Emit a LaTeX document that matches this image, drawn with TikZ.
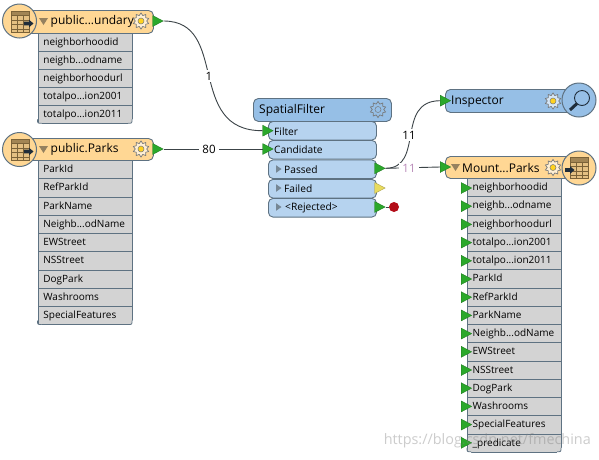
\documentclass[tikz,border=0pt]{standalone}
\usepackage{fontspec}
\setmainfont{Open Sans}
\usetikzlibrary{shapes.geometric}
\definecolor{edgeC}{HTML}{5E7282}
\definecolor{hdrO}{HTML}{FFD794}
\definecolor{rowC}{HTML}{D3D3D3}
\definecolor{hdrB}{HTML}{96BFE6}
\definecolor{portB}{HTML}{B6D3EF}
\definecolor{greenP}{HTML}{2BA82B}
\definecolor{yelP}{HTML}{E9DB5E}
\definecolor{redP}{HTML}{B30C18}
\definecolor{iconL}{HTML}{7A6238}
\definecolor{wireC}{HTML}{3C4448}
\definecolor{darkI}{HTML}{1F2D3A}
\definecolor{gearY}{HTML}{FFD21F}
\definecolor{gearO}{HTML}{77797A}
\newcommand{\ddd}{.{}.{}.}
\tikzset{
 x=1pt,y=-1pt,
 hdr/.style={draw=edgeC,line width=0.9pt,rounded corners=5pt,anchor=north west,inner sep=0pt,minimum height=#1},
 attr/.style={draw=edgeC,line width=0.8pt,fill=rowC,anchor=north west,minimum width=94.5pt,minimum height=18.25pt,inner xsep=5.5pt,inner ysep=0pt,text width=83.5pt,align=left,text height=8pt,text depth=2pt,font=\fontsize{10}{12}\selectfont},
 portrow/.style={draw=edgeC,line width=0.9pt,fill=portB,rounded corners=4.5pt,anchor=north west,minimum width=108pt,minimum height=18.6pt,inner sep=0pt},
 porttext/.style={anchor=west,inner sep=0pt,font=\fontsize{10.2}{12}\selectfont},
 tri/.style={isosceles triangle,isosceles triangle stretches,minimum width=11pt,minimum height=10.5pt,inner sep=0pt,fill=#1,draw=#1!70!black,line width=0.3pt,anchor=center},
 wire/.style={draw=wireC,line width=0.9pt},
 lab/.style={font=\fontsize{11.5}{13}\selectfont,fill=white,inner xsep=3pt,inner ysep=1.5pt},
 title/.style={font=\fontsize{12}{14}\selectfont,anchor=west,inner sep=0pt},
 round/.style={circle,draw=edgeC,line width=1pt,minimum size=34pt,inner sep=0pt},
 pics/gear/.style 2 args={code={
   \node[star,star points=10,star point ratio=1.4,minimum size=16pt,inner sep=0pt,draw=gearO,fill=#2,line width=0.7pt]{};
   \filldraw[draw=gearO,fill=#1,line width=0.5pt] (0,0) circle (3pt);
 }},
 pics/tbl/.style={code={
   \fill[hdrO!80!iconL] (0,0) rectangle (18,21);
   \fill[iconL!70!hdrO] (0,0) rectangle (18,4.5);
   \draw[iconL,line width=0.7pt] (0,0) rectangle (18,21);
   \foreach \yy in {4.5,9,13.5,18}{\draw[iconL,line width=0.6pt] (0,\yy) -- (18,\yy);}
   \foreach \xx in {6,12}{\draw[iconL,line width=0.6pt] (\xx,4.5) -- (\xx,21);}
 }},
}
\newcommand{\hdrarrow}[2]{\fill[darkI] (#1,#2-1.8) -- (#1+5,#2-1.8) -- (#1+5,#2-3.8) -- (#1+9.5,#2) -- (#1+5,#2+3.8) -- (#1+5,#2+1.8) -- (#1,#2+1.8) -- cycle;}
\newcommand{\dropdown}[2]{\fill[black!40!hdrO!85!gray] (#1,#2-3) -- (#1+9,#2-3) -- (#1+4.5,#2+4) -- cycle;}
\newcommand{\expander}[2]{\fill[edgeC!85!white] (#1,#2-3.8) -- (#1+5.5,#2) -- (#1,#2+3.8) -- cycle;}
% rounded bottom corners of an attribute block: left x, right x, bottom y
\newcommand{\bcorners}[3]{%
  \fill[white] (#1-1,#3+1) -- (#1-1,#3-4) -- (#1,#3-4) .. controls (#1,#3) .. (#1+4,#3) -- (#1+4,#3+1) -- cycle;
  \fill[white] (#2+1,#3+1) -- (#2+1,#3-4) -- (#2,#3-4) .. controls (#2,#3) .. (#2-4,#3) -- (#2-4,#3+1) -- cycle;
  \draw[edgeC,line width=0.8pt] (#1,#3-4) .. controls (#1,#3) .. (#1+4,#3);
  \draw[edgeC,line width=0.8pt] (#2,#3-4) .. controls (#2,#3) .. (#2-4,#3);}
\begin{document}
\begin{tikzpicture}
\useasboundingbox (0,0) rectangle (599,459);
\fill[white] (0,0) rectangle (599,459);

% ---------- reader 1
\node[hdr=23pt,fill=hdrO,minimum width=128pt] (r1) at (25,10) {};
\foreach \t [count=\i from 0] in {neighborhoodid,neighb\ddd odname,neighborhoodurl,totalpo\ddd ion2001,totalpo\ddd ion2011}
  {\node[attr] (r1a\i) at (37.5,33+18*\i) {\t};}
\bcorners{37.5}{132}{123.25}
\node[title] (r1t) at (50.5,21.5) {public\ddd undary};
\dropdown{39}{21}
\pic at (141,21) {gear={gearY}{hdrO!40!white}};
\node[tri=greenP] (r1o) at (156,21) {};
\node[round,fill=hdrO] (r1c) at (19.5,21) {};
\pic at (11,11) {tbl};
\hdrarrow{24}{23.5}

% ---------- reader 2
\node[hdr=22pt,fill=hdrO,minimum width=128pt] (r2) at (25,138) {};
\foreach \t [count=\i from 0] in {ParkId,RefParkId,ParkName,Neighb\ddd odName,EWStreet,NSStreet,DogPark,Washrooms,SpecialFeatures}
  {\node[attr] (r2a\i) at (37.5,160+18.25*\i) {\t};}
\bcorners{37.5}{132}{324.5}
\node[title] (r2t) at (50.5,149.5) {public.Parks};
\dropdown{39}{149}
\pic at (141,149) {gear={gearY}{hdrO!40!white}};
\node[tri=greenP] (r2o) at (156,149) {};
\node[round,fill=hdrO] (r2c) at (19.5,149.5) {};
\pic at (11,139) {tbl};
\hdrarrow{24}{151.5}

% ---------- SpatialFilter
\node[hdr=23pt,fill=hdrB,minimum width=138pt] (sf) at (253,98) {};
\node[title] (sft) at (259,110.5) {SpatialFilter};
\pic at (378,109.5) {gear={hdrB}{hdrB}};
\node[portrow] (pf) at (268,121) {};
\node[portrow] (pc) at (268,140) {};
\node[portrow] (pp) at (268,159.5) {};
\node[portrow] (pa) at (268,179) {};
\node[portrow] (pr) at (268,198) {};
\node[porttext] (pft) at (274,131.5) {Filter};
\node[porttext] (pct) at (274,150) {Candidate};
\node[porttext] (ppt) at (284,169.5) {Passed};
\node[porttext] (pat) at (284,188.5) {Failed};
\node[porttext] (prt) at (285,207.5) {<Rejected>};
\expander{276}{169}
\expander{276}{188}
\expander{276}{207}

% ---------- Inspector
\node[hdr=23pt,fill=hdrB,minimum width=127pt] (ins) at (445,89) {};
\node[title] (inst) at (451,101.5) {Inspector};
\pic at (553,101) {gear={gearY}{hdrB!40!white}};
\node[round,fill=hdrB] (insc) at (579,100) {};
\draw[darkI,line width=0.9pt] (582,98) circle (7.5pt);
\draw[darkI,line width=3pt] (577,103.5) -- (570,110);

% ---------- Writer
\node[hdr=22pt,fill=hdrO,minimum width=127pt] (w) at (445,156) {};
\foreach \t [count=\i from 0] in {neighborhoodid,neighb\ddd odname,neighborhoodurl,totalpo\ddd ion2001,totalpo\ddd ion2011,ParkId,RefParkId,ParkName,Neighb\ddd odName,EWStreet,NSStreet,DogPark,Washrooms,SpecialFeatures,\_predicate}
  {\node[attr,minimum width=94pt,inner xsep=5pt] (wa\i) at (467,178+18.25*\i) {\t};
   \node[tri=greenP] (wp\i) at (464.5,188+18.2*\i) {};}
\bcorners{467}{561}{451.75}
\node[title] (wt) at (462,168) {Mount\ddd Parks};
\dropdown{451}{167}
\pic at (553,167.5) {gear={gearY}{hdrO!40!white}};
\node[round,fill=hdrO] (wc) at (579,168) {};
\pic at (570,157.5) {tbl};
\hdrarrow{565}{170}

% ---------- ports
\node[tri=greenP] (fi) at (266,130.7) {};
\node[tri=greenP] (ci) at (266,149) {};
\node[tri=greenP] (po) at (378,168.3) {};
\node[tri=yelP] (fo) at (378,188) {};
\node[tri=greenP] (ro) at (378,207) {};
\node[circle,fill=redP,minimum size=10pt,inner sep=0pt] (rd) at (394,207) {};
\node[tri=greenP] (ii) at (443.5,100.7) {};
\node[tri=greenP] (wi) at (443.5,167) {};

% ---------- connectors
\draw[wire] (ro.apex) -- (rd);
\draw[wire] (r1o.apex) .. controls (230,21) and (185,131) .. (fi.west);
\draw[wire] (r2o.apex) -- (ci.west);
\draw[wire] (po.apex) .. controls (425,168) and (395,101) .. (ii.west);
\draw[wire] (po.apex) -- (wi.west);
\node[lab] (l1) at (209,76) {1};
\node[lab] (l2) at (209,149) {80};
\node[lab] (l3) at (409,135) {11};
\node[lab,text=violet!45!white!80!gray] (l4) at (409,168.5) {11};

% ---------- watermark
\node[anchor=east,inner sep=0pt,text=gray,opacity=0.4,font=\fontsize{14.4}{16}\selectfont] (wm) at (591,441) {https://blog.csdn.net/fmechina};
\end{tikzpicture}
\end{document}
